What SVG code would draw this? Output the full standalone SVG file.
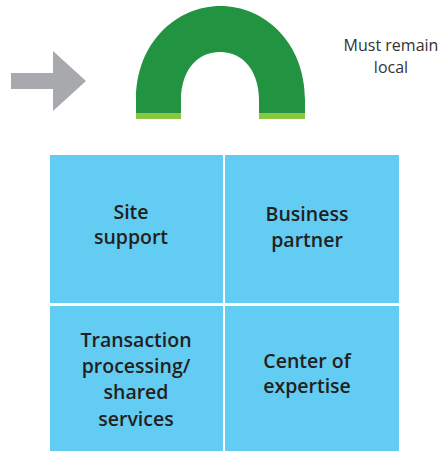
<svg xmlns="http://www.w3.org/2000/svg" width="440" height="451" viewBox="0 0 440 451">
<style>
.cell{fill:#63CCF3}
.lbl{font-family:"Open Sans","Liberation Sans",sans-serif;font-weight:600;font-size:19.5px;fill:#231F20;text-anchor:middle}
.note{font-family:"Open Sans","Liberation Sans",sans-serif;font-weight:400;font-size:16px;fill:#333333;text-anchor:middle}
</style>
<rect width="440" height="451" fill="#ffffff"/>
<g id="arrow">
<polygon points="11,73 53,73 53,51 86,81 53,111 53,89 11,89" fill="#A7A9AC"/>
</g>
<g id="arch">
<path d="M136,113 L136,100 C136,42 177,6 220.5,6 C264,6 305,42 305,100 L305,113 L259,113 L259,100 C259,72 244,52 220,52 C196,52 181,72 181,100 L181,113 Z" fill="#219341"/>
<rect x="136" y="113" width="45" height="6" fill="#8DC63F"/>
<rect x="259" y="113" width="46" height="6" fill="#8DC63F"/>
</g>
<g id="note">
<text class="note" x="391" y="51">Must remain</text>
<text class="note" x="391" y="73">local</text>
</g>
<g id="site-support">
<rect class="cell" x="50" y="155" width="173" height="148"/>
<text class="lbl" x="131" y="219">Site</text>
<text class="lbl" x="131" y="244">support</text>
</g>
<g id="business-partner">
<rect class="cell" x="225" y="155" width="174" height="148"/>
<text class="lbl" x="307" y="221">Business</text>
<text class="lbl" x="307" y="247">partner</text>
</g>
<g id="transaction-processing">
<rect class="cell" x="50" y="306" width="173" height="145"/>
<text class="lbl" x="136" y="347">Transaction</text>
<text class="lbl" x="136" y="373">processing/</text>
<text class="lbl" x="136" y="399">shared</text>
<text class="lbl" x="136" y="426">services</text>
</g>
<g id="center-of-expertise">
<rect class="cell" x="225" y="306" width="174" height="145"/>
<text class="lbl" x="307" y="368">Center of</text>
<text class="lbl" x="307" y="393">expertise</text>
</g>
<g id="connectors"/>
</svg>
